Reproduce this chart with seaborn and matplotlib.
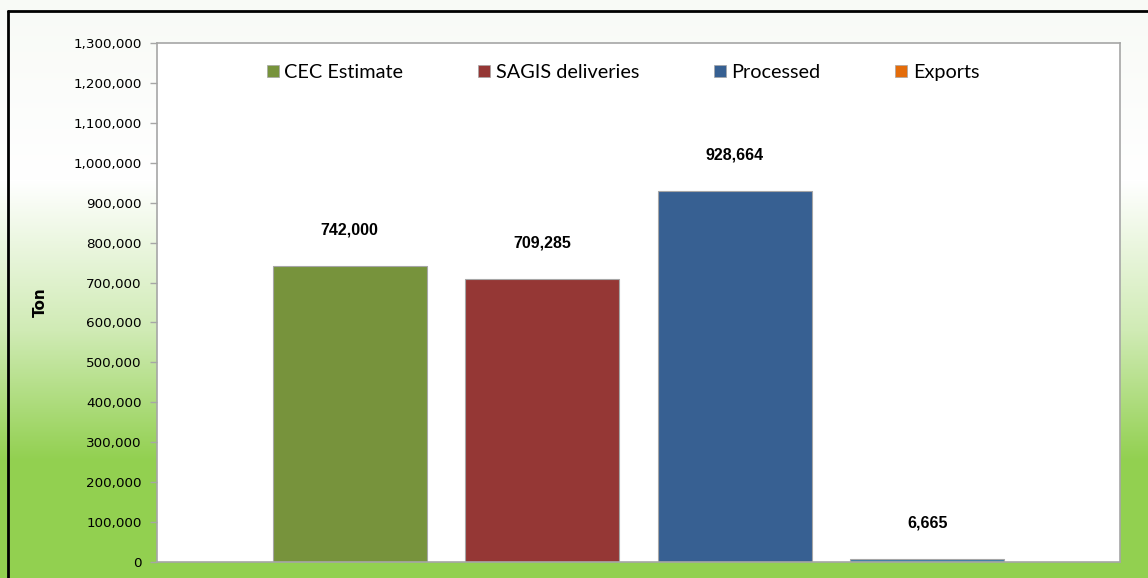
import numpy as np
import pandas as pd
import seaborn as sns
import matplotlib.pyplot as plt
from matplotlib import font_manager
from matplotlib.patches import Patch
from matplotlib.colors import to_rgb
from matplotlib.ticker import FuncFormatter

# Datos del grafico
series = ["CEC Estimate", "SAGIS deliveries", "Processed", "Exports"]
valores = [742000, 709285, 928664, 6665]
colores_barras = ["#77933C", "#953735", "#376092", "#3F7FA3"]
colores_leyenda = ["#77933C", "#953735", "#376092", "#E46C0A"]

df = pd.DataFrame({"Serie": series, "Ton": valores})

sns.set_style("white")
fig = plt.figure(figsize=(11.48, 5.78), dpi=100)

# fuente tipo Arial negrita (evitar la variante Narrow)
arial_bold = None
for f in font_manager.fontManager.ttflist:
    if f.name == "Liberation Sans" and f.weight in (700, "bold") and f.style == "normal" \
            and "Narrow" not in f.fname:
        arial_bold = font_manager.FontProperties(fname=f.fname, size=11.5)
        break
if arial_bold is None:
    arial_bold = font_manager.FontProperties(family="DejaVu Sans", weight="bold", size=11)

# --- fondo degradado blanco -> verde ---
bg = fig.add_axes([0, 0, 1, 1], zorder=-10)
h = 578
y = np.arange(h)
stops_y = [0, 180, 330, 460, h]
stops_c = ["#F8FAF6", "#FFFFFF", "#D0EBB5", "#92D050", "#92D050"]
rgb = np.array([to_rgb(c) for c in stops_c])
grad = np.stack([np.interp(y, stops_y, rgb[:, k]) for k in range(3)], axis=1)
img = np.repeat(grad[:, None, :], 10, axis=1)
bg.imshow(img, aspect="auto", extent=[0, 1, 0, 1], origin="upper")
bg.plot([8 / 1148, 1], [1 - 11 / 578, 1 - 11 / 578], color="black", lw=2)
bg.plot([8 / 1148, 8 / 1148], [1 - 11 / 578, 0], color="black", lw=2)
bg.set_xlim(0, 1)
bg.set_ylim(0, 1)
bg.axis("off")

# --- grafico de barras ---
ax = fig.add_axes([157 / 1148, 16 / 578, (1120 - 157) / 1148, (562 - 43) / 578])
ax.set_facecolor("white")
sns.barplot(data=df, x="Serie", y="Ton", hue="Serie", palette=colores_barras,
            saturation=1, width=0.8, edgecolor="#A6A6A6", linewidth=0.8,
            legend=False, ax=ax)

ax.set_xlim(-1, 4)
ax.set_ylim(0, 1300000)
ax.set_yticks(np.arange(0, 1300001, 100000))
ax.yaxis.set_major_formatter(FuncFormatter(lambda v, p: f"{int(v):,}"))
ax.tick_params(axis="y", which="major", direction="out", length=5, width=1,
               color="#A6A6A6", labelsize=9.7, labelcolor="black", pad=6, left=True)
ax.set_xticks([])
ax.set_xlabel("")
ax.set_ylabel("Ton", fontsize=11, fontweight="bold", color="black", labelpad=18)
for s in ax.spines.values():
    s.set_color("#A6A6A6")
    s.set_linewidth(1.2)

# etiquetas de datos
for i, v in enumerate(valores):
    ax.annotate(f"{v:,}", (i, v), xytext=(0, 26), textcoords="offset points",
                ha="center", va="center", color="black", fontproperties=arial_bold)

# leyenda
handles = [Patch(facecolor=c, edgecolor="#A6A6A6", linewidth=0.5) for c in colores_leyenda]
ax.legend(handles, series, loc="upper center", bbox_to_anchor=(0.484, 0.994), ncol=4,
          frameon=False, prop={"family": "Lato", "size": 14.3}, handlelength=0.6,
          handleheight=0.6, handletextpad=0.3, columnspacing=3.75, labelcolor="black")

fig.savefig("out.png", dpi=100)
